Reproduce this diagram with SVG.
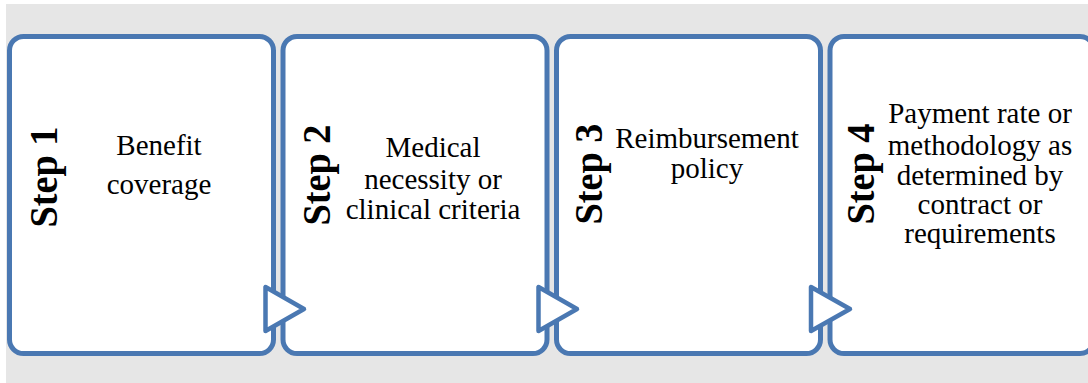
<svg xmlns="http://www.w3.org/2000/svg" width="1088" height="383" viewBox="0 0 1088 383">
<style>
.box{fill:#ffffff;stroke:#4a78b2;stroke-width:5}
.arr{fill:#ffffff;stroke:#4a78b2;stroke-width:4.5;stroke-linejoin:round}
.step{font-family:"Liberation Serif",serif;font-weight:bold;font-size:41px;fill:#000;text-anchor:middle}
.txt{font-family:"Liberation Serif",serif;font-size:29px;fill:#000;text-anchor:middle}
</style>
<rect x="6" y="4" width="1082" height="379" fill="#e6e6e6"/>
<g id="node1">
<rect class="box" x="9.5" y="36.5" width="264" height="317" rx="14"/>
<text class="step" transform="translate(57,177) rotate(-90)" textLength="101" lengthAdjust="spacingAndGlyphs">Step 1</text>
<text class="txt" x="159" y="155">Benefit</text>
<text class="txt" x="159" y="194">coverage</text>
</g>
<g id="node2">
<rect class="box" x="283" y="36.5" width="264" height="317" rx="14"/>
<text class="step" transform="translate(330,175) rotate(-90)" textLength="101" lengthAdjust="spacingAndGlyphs">Step 2</text>
<text class="txt" x="433" y="157">Medical</text>
<text class="txt" x="433" y="189">necessity or</text>
<text class="txt" x="433" y="219">clinical criteria</text>
</g>
<g id="node3">
<rect class="box" x="556.5" y="36.5" width="264" height="317" rx="14"/>
<text class="step" transform="translate(602,174) rotate(-90)" textLength="101" lengthAdjust="spacingAndGlyphs">Step 3</text>
<text class="txt" x="707" y="148">Reimbursement</text>
<text class="txt" x="707" y="178">policy</text>
</g>
<g id="node4">
<rect class="box" x="830" y="36.5" width="264" height="317" rx="14"/>
<text class="step" transform="translate(874,174) rotate(-90)" textLength="101" lengthAdjust="spacingAndGlyphs">Step 4</text>
<text class="txt" x="980" y="123">Payment rate or</text>
<text class="txt" x="980" y="155">methodology as</text>
<text class="txt" x="980" y="185">determined by</text>
<text class="txt" x="980" y="214">contract or</text>
<text class="txt" x="980" y="243">requirements</text>
</g>
<g id="connectors">
<polygon class="arr" points="265.5,287 265.5,331 304,309"/>
<polygon class="arr" points="538.5,287 538.5,331 577,309"/>
<polygon class="arr" points="811,287 811,331 850,309"/>
</g>
</svg>
